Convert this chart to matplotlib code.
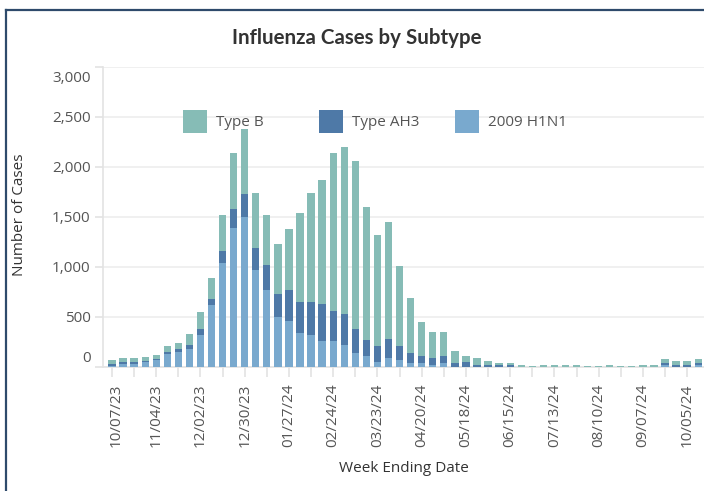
import matplotlib
matplotlib.use("Agg")
import matplotlib.pyplot as plt
import matplotlib.transforms as mtransforms
from matplotlib.lines import Line2D
from matplotlib.patches import Rectangle
import numpy as np
import pandas as pd

# ---------------- data ----------------
week_ending = pd.date_range("2023-10-07", periods=54, freq="7D").strftime("%m/%d/%y").tolist()

h1n1 = [7, 27, 27, 47, 67, 127, 147, 177, 317, 617,
        1037, 1387, 1497, 967, 767, 497, 457, 337, 317, 257,
        257, 217, 137, 107, 47, 87, 67, 37, 40, 20,
        40, 0, 0, 0, 0, 0, 0, 0, 0, 0,
        0, 0, 0, 0, 0, 0, 0, 0, 0, 0,
        20, 0, 0, 20]
ah3 = [20, 20, 20, 10, 10, 20, 30, 40, 60, 60,
       120, 193, 230, 220, 250, 230, 310, 310, 330, 370,
       300, 310, 240, 160, 160, 190, 140, 100, 70, 70,
       70, 40, 50, 20, 20, 20, 20, 0, 0, 0,
       0, 0, 0, 0, 0, 0, 0, 0, 0, 0,
       20, 20, 20, 20]
type_b = [40, 40, 40, 40, 40, 60, 60, 110, 170, 210,
          360, 560, 647, 550, 500, 500, 610, 890, 1090, 1240,
          1583, 1670, 1680, 1330, 1110, 1170, 800, 550, 340, 260,
          240, 120, 60, 70, 40, 20, 20, 20, 10, 20,
          20, 20, 20, 10, 10, 20, 10, 10, 20, 20,
          40, 40, 40, 40]

series_names = ["Type B", "Type AH3", "2009 H1N1"]
y_ticks = [0, 500, 1000, 1500, 2000, 2500, 3000]

# ---------------- style ----------------
C_B = "#86BCB6"
C_AH3 = "#4E79A7"
C_H1 = "#79A9CE"
GRID = "#EFEFEF"
AXC = "#E3E3E3"
TXT = "#555555"
FONT = ["Open Sans", "DejaVu Sans"]

plt.rcParams["font.family"] = FONT

W, H = 704, 491
fig = plt.figure(figsize=(W / 100, H / 100), dpi=100)
fig.patch.set_facecolor("white")

def fx(px):
    return px / W

def fy(py):
    return 1 - py / H

x0_px, top_px, bot_px = 103, 66.5, 367
ax = fig.add_axes([fx(x0_px), fy(bot_px), 1 - fx(x0_px), (bot_px - top_px) / H])

x = np.arange(len(week_ending))
h1 = np.array(h1n1)
a3 = np.array(ah3)
tb = np.array(type_b)
bw = 0.66
ax.bar(x, h1, width=bw, color=C_H1, zorder=3, label=series_names[2])
ax.bar(x, a3, width=bw, bottom=h1, color=C_AH3, zorder=3, label=series_names[1])
ax.bar(x, tb, width=bw, bottom=h1 + a3, color=C_B, zorder=3, label=series_names[0])

# x scale: bar 0 centred at ~112 px, 11.06 px per week
step = 11.06
first = 112.0
ax.set_xlim((x0_px - first) / step, (W - first) / step)
ax.set_ylim(0, 3000)

for s in ["top", "right"]:
    ax.spines[s].set_visible(False)
for s in ["left", "bottom"]:
    ax.spines[s].set_color(AXC)
    ax.spines[s].set_linewidth(1.2)

ax.set_yticks(y_ticks)
ax.set_yticklabels([f"{v:,}" for v in y_ticks])
ax.yaxis.grid(True, color=GRID, linewidth=1.3, zorder=0)
ax.set_axisbelow(True)
ax.tick_params(axis="y", length=6, width=1.2, color=AXC, labelsize=11, labelcolor=TXT, pad=3)

major = x[::4]
ax.set_xticks(major)
ax.set_xticklabels([week_ending[i] for i in major], rotation=90)
ax.set_xticks(x[2::4], minor=True)
ax.tick_params(axis="x", which="both", length=7, width=1.2, color=AXC, labelsize=11,
               labelcolor=TXT, pad=5)

# Tableau keeps the end labels inside the pane
ylabels = ax.get_yticklabels()
ylabels[0].set_transform(ylabels[0].get_transform() +
                         mtransforms.ScaledTranslation(0, 11 / 100, fig.dpi_scale_trans))
ylabels[-1].set_transform(ylabels[-1].get_transform() +
                          mtransforms.ScaledTranslation(0, -10.5 / 100, fig.dpi_scale_trans))
xlabels = ax.get_xticklabels()
xlabels[0].set_transform(xlabels[0].get_transform() +
                         mtransforms.ScaledTranslation(4.5 / 100, 0, fig.dpi_scale_trans))

# titles
fig.text(fx(357), fy(38), "Influenza Cases by Subtype", ha="center", va="center",
         fontsize=14.8, fontweight="bold", color="#333333", family=["Lato", "DejaVu Sans"])
fig.text(fx(20), fy(215), "Number of Cases", ha="center", va="center", rotation=90,
         fontsize=11, color="#333333")
fig.text(fx(404), fy(468), "Week Ending Date", ha="center", va="center",
         fontsize=11, color="#333333")

# legend (Tableau-style, fixed column spacing)
leg_colors = [C_B, C_AH3, C_H1]
for k, (name, col) in enumerate(zip(series_names, leg_colors)):
    sx = 183 + 136 * k
    fig.patches.append(Rectangle((fx(sx), fy(133.5)), 24 / W, 23.5 / H,
                                 transform=fig.transFigure, facecolor=col,
                                 edgecolor="none", zorder=5))
    fig.text(fx(sx + 33), fy(123), name, ha="left", va="center",
             fontsize=11, color=TXT, zorder=5)

# dashboard frame
frame_c = "#2E4A6B"
fig.add_artist(Line2D([fx(5.5), fx(5.5)], [0, fy(9.5)], transform=fig.transFigure,
                      color=frame_c, linewidth=1.6))
fig.add_artist(Line2D([fx(5.5), 1], [fy(9.5), fy(9.5)], transform=fig.transFigure,
                      color=frame_c, linewidth=1.6))

fig.savefig("out.png", dpi=100, facecolor="white")
